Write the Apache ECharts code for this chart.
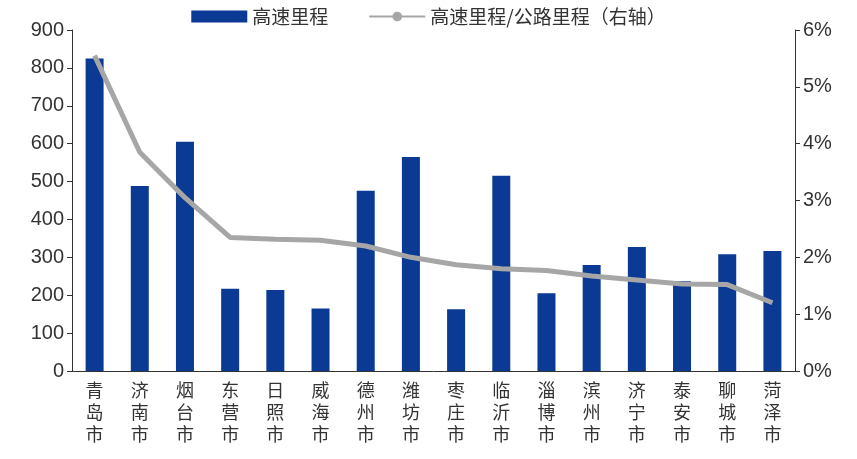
<!DOCTYPE html>
<html><head><meta charset="utf-8">
<script src="https://cdn.jsdelivr.net/npm/echarts@6/dist/echarts.min.js"></script>
<style>html,body{margin:0;padding:0;background:#fff}#c{width:857px;height:459px}</style>
</head><body><div id="c"></div>
<script>
const categories = ['青岛市','济南市','烟台市','东营市','日照市','威海市','德州市','潍坊市','枣庄市','临沂市','淄博市','滨州市','济宁市','泰安市','聊城市','菏泽市'];
const mileage = [825,488,605,217,214,165,476,565,163,515,205,280,327,237,308,317];
const ratio = [5.55,3.85,3.05,2.35,2.32,2.3,2.2,2.0,1.87,1.8,1.77,1.67,1.6,1.53,1.52,1.2];
const font = "'Liberation Sans','Noto Sans CJK SC',sans-serif";
const chart = echarts.init(document.getElementById('c'));
chart.setOption({
  animation:false,
  textStyle:{fontFamily:font},
  legend:{top:2,left:'center',itemGap:40,itemWidth:56,itemHeight:12,textStyle:{fontSize:19,color:'#333',fontFamily:"'Noto Sans CJK SC',sans-serif"},
    data:[{name:'高速里程',icon:'rect'},{name:'高速里程/公路里程（右轴）'}]},
  grid:{left:72,right:62,top:30,bottom:88},
  xAxis:{type:'category',data:categories,axisTick:{show:false},axisLine:{lineStyle:{color:'#333'}},
    axisLabel:{interval:0,fontSize:18,color:'#333',lineHeight:22,fontFamily:"'Noto Sans CJK SC',sans-serif",formatter:v=>v.split('').join('\n')}},
  yAxis:[
    {type:'value',min:0,max:900,interval:100,splitLine:{show:false},axisLine:{show:true,lineStyle:{color:'#333'}},axisTick:{show:true,inside:false},axisLabel:{fontSize:20,color:'#333'}},
    {type:'value',min:0,max:6,interval:1,splitLine:{show:false},axisLine:{show:true,lineStyle:{color:'#333'}},axisTick:{show:true},axisLabel:{fontSize:20,color:'#333',formatter:'{value}%'}}
  ],
  series:[
    {name:'高速里程',type:'bar',data:mileage,barWidth:18,itemStyle:{color:'#0a3a94'}},
    {name:'高速里程/公路里程（右轴）',type:'line',yAxisIndex:1,data:ratio,symbol:'none',lineStyle:{color:'#a6a6a6',width:5},itemStyle:{color:'#a6a6a6'}}
  ]
});
</script></body></html>
